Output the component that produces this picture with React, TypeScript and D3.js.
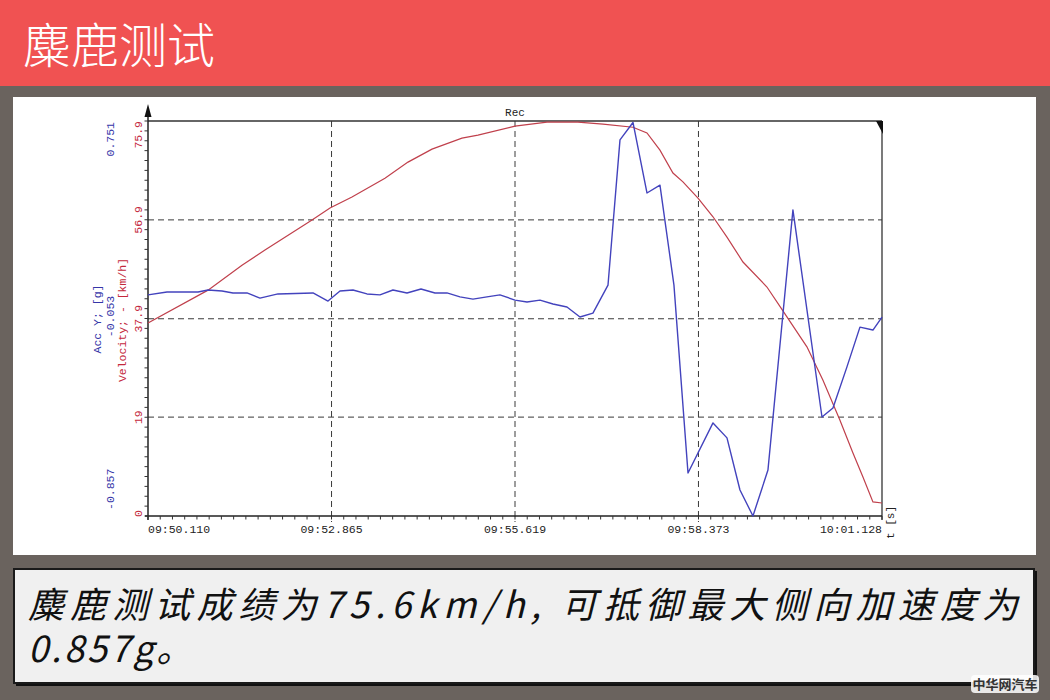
import React from "react";
import * as d3 from "d3";

const title = "麋鹿测试";
const caption1 = "麋鹿测试成绩为75.6km/h, 可抵御最大侧向加速度为";
const caption2 = "0.857g。";
const watermark = "中华网汽车";
const chartTitle = "Rec";
const accName = "Acc Y; [g]";
const velName = "Velocity; - [km/h]";
const xUnit = "t [s]";

const xTickValues = [50.11, 52.865, 55.619, 58.373, 61.128];
const xTickLabels = ["09:50.110", "09:52.865", "09:55.619", "09:58.373", "10:01.128"];
const velTicks = [0, 19, 37.9, 56.9, 75.9];
const velTickLabels = ["0", "19", "37.9", "56.9", "75.9"];
const accTicks = [-0.857, -0.053, 0.751];
const accTickLabels = ["-0.857", "-0.053", "0.751"];

// Velocity [km/h] vs time (seconds after 09:50)
const velTime = [
  50.11, 51.011, 51.521, 51.866, 52.572, 52.842, 53.172, 53.667, 54.013, 54.373,
  54.823, 55.063, 55.619, 56.099, 56.564, 56.94, 57.39, 57.6, 57.795, 57.99,
  58.14, 58.366, 58.591, 58.801, 59.041, 59.401, 59.641, 60.001, 60.242, 60.497,
  60.692, 60.842, 60.992, 61.128,
];
const velocity = [
  37.1, 43.4, 48.2, 51.1, 56.9, 59.2, 61.3, 64.9, 68.0, 70.5,
  72.6, 73.2, 74.9, 75.7, 75.7, 75.3, 74.7, 73.6, 70.3, 65.9,
  64.2, 61.1, 57.5, 53.6, 48.8, 44.0, 39.4, 32.5, 26.1, 18.4,
  12.1, 7.5, 2.7, 2.5,
];

// Lateral acceleration [g] vs time
const accTime = [
  50.11, 50.395, 50.861, 51.011, 51.221, 51.386, 51.596, 51.791, 52.061, 52.587,
  52.812, 52.992, 53.187, 53.397, 53.592, 53.787, 53.998, 54.208, 54.418, 54.598,
  54.793, 54.988, 55.198, 55.393, 55.619, 55.799, 55.994, 56.189, 56.399, 56.594,
  56.789, 57.015, 57.195, 57.39, 57.6, 57.795, 58.005, 58.216, 58.591, 58.801,
  58.996, 59.191, 59.416, 59.791, 60.227, 60.392, 60.602, 60.797, 60.992, 61.128,
];
const accY = [
  0.043, 0.055, 0.055, 0.063, 0.059, 0.051, 0.051, 0.03, 0.047, 0.051,
  0.018, 0.059, 0.063, 0.047, 0.043, 0.063, 0.051, 0.067, 0.051, 0.051,
  0.035, 0.026, 0.035, 0.043, 0.022, 0.014, 0.022, 0.006, -0.006, -0.047,
  -0.031, 0.083, 0.674, 0.745, 0.458, 0.49, 0.083, -0.682, -0.478, -0.539,
  -0.751, -0.857, -0.67, 0.389, -0.454, -0.417, -0.25, -0.088, -0.1, -0.047,
];

const MONO = "'Liberation Mono', 'DejaVu Sans Mono', monospace";
const CJK = "'Noto Sans CJK SC', 'Noto Sans', sans-serif";
const BLUE = "#4343bd";
const RED = "#c0404c";
const BLUE_T = "#3535a8";
const RED_T = "#c4283c";

export default function App() {
  const W = 1050, H = 700;
  const L = 148, R = 882, T = 121, B = 516;

  const x = d3.scaleLinear().domain([xTickValues[0], xTickValues[xTickValues.length - 1]]).range([L, R]);
  const yV = d3.scaleLinear().domain([0, 75.9]).range([B, T]);
  const yA = d3.scaleLinear().domain([-0.857, 0.751]).range([B, T]);

  const velLine = d3.line<number>().x((_, i) => x(velTime[i])).y((d) => yV(d))(velocity) || "";
  const accLine = d3.line<number>().x((_, i) => x(accTime[i])).y((d) => yA(d))(accY) || "";

  const x0 = xTickValues[0], x1 = xTickValues[xTickValues.length - 1];
  const xMinor = d3.range(0, 61).map((i) => x0 + (i * (x1 - x0)) / 60);
  const yMinor = d3.range(0, 41).map((i) => (i * 75.9) / 40);

  const innerX = xTickValues.slice(1, -1);
  const innerV = velTicks.slice(1, -1);

  const rot = (cx: number, cy: number) => `translate(${cx},${cy}) rotate(-90)`;

  return (
    <svg width={W} height={H} style={{ position: "absolute", left: 0, top: 0, display: "block" }}>
      <rect x={0} y={0} width={W} height={H} fill="#6a635e" />
      <rect x={0} y={0} width={W} height={86} fill="#f05252" />
      <text x={23} y={63} fill="#ffffff" fontFamily={CJK} fontSize={48} fontWeight={300}>{title}</text>

      {/* chart panel */}
      <rect x={13} y={97} width={1023} height={458} fill="#ffffff" />

      {/* grid */}
      {innerV.map((v, i) => (
        <line key={"hg" + i} x1={L} x2={R} y1={yV(v)} y2={yV(v)} stroke="#3a3a3a" strokeWidth={1} strokeDasharray="6,4" />
      ))}
      {innerX.map((t, i) => (
        <line key={"vg" + i} x1={x(t)} x2={x(t)} y1={T} y2={B + 6} stroke="#3a3a3a" strokeWidth={1} strokeDasharray="6,4" />
      ))}

      {/* frame */}
      <line x1={L} x2={R} y1={T} y2={T} stroke="#333" strokeWidth={1.3} />
      <line x1={R} x2={R} y1={T} y2={B + 4} stroke="#333" strokeWidth={1.3} />
      <line x1={L - 3} x2={R} y1={B} y2={B} stroke="#222" strokeWidth={1.5} />
      <line x1={L} x2={L} y1={110} y2={B + 4} stroke="#222" strokeWidth={1.5} />
      <polygon points={`${L},104 ${L - 3.5},117 ${L + 3.5},117`} fill="#111" />
      <polygon points={`${R - 6},${T} ${R + 1},${T} ${R + 1},${T + 13}`} fill="#111" />

      {/* minor ticks */}
      {xMinor.map((t, i) => (
        <line key={"xm" + i} x1={x(t)} x2={x(t)} y1={B} y2={B + 3.5} stroke="#333" strokeWidth={1} />
      ))}
      {yMinor.map((v, i) => (
        <line key={"ym" + i} x1={L - 3.5} x2={L} y1={yV(v)} y2={yV(v)} stroke="#333" strokeWidth={1} />
      ))}

      {/* x tick labels */}
      {xTickValues.map((t, i) => (
        <text
          key={"xl" + i}
          x={x(t)}
          y={533}
          fontFamily={MONO}
          fontSize={11.5}
          fill="#222"
          textAnchor={i === 0 ? "start" : i === xTickValues.length - 1 ? "end" : "middle"}
        >
          {xTickLabels[i]}
        </text>
      ))}
      <text transform={rot(891, 539)} fontFamily={MONO} fontSize={11} fill="#222" dominantBaseline="central" textAnchor="start">{xUnit}</text>
      <text x={515} y={116} fontFamily={MONO} fontSize={11} fill="#222" textAnchor="middle">{chartTitle}</text>

      {/* velocity axis labels */}
      {velTicks.map((v, i) => (
        <text
          key={"vl" + i}
          transform={rot(138.5, i === 0 ? B + 1 : i === velTicks.length - 1 ? T : yV(v))}
          fontFamily={MONO}
          fontSize={11.5}
          fill={RED_T}
          dominantBaseline="central"
          textAnchor={i === 0 ? "start" : i === velTicks.length - 1 ? "end" : "middle"}
        >
          {velTickLabels[i]}
        </text>
      ))}
      <text transform={rot(122.5, 320)} fontFamily={MONO} fontSize={11.5} fill={RED_T} dominantBaseline="central" textAnchor="middle">{velName}</text>

      {/* acc axis labels */}
      {accTicks.map((a, i) => (
        <text
          key={"al" + i}
          transform={rot(110, i === 0 ? B - 6 : i === accTicks.length - 1 ? T + 1 : yA(a) - 2)}
          fontFamily={MONO}
          fontSize={11.5}
          fill={BLUE_T}
          dominantBaseline="central"
          textAnchor={i === 0 ? "start" : i === accTicks.length - 1 ? "end" : "middle"}
        >
          {accTickLabels[i]}
        </text>
      ))}
      <text transform={rot(97.5, 319)} fontFamily={MONO} fontSize={11.5} fill={BLUE_T} dominantBaseline="central" textAnchor="middle">{accName}</text>

      {/* series */}
      <path d={velLine} fill="none" stroke={RED} strokeWidth={1.2} />
      <path d={accLine} fill="none" stroke={BLUE} strokeWidth={1.4} strokeLinejoin="round" />

      {/* caption box */}
      <rect x={16} y={571} width={1021} height={115} fill="#111" />
      <rect x={14} y={569} width={1020} height={114} fill="#f0f0f0" stroke="#1a1a1a" strokeWidth={2} />
      <text fontFamily={CJK} fontSize={36} fontStyle="italic" fill="#111">
        <tspan x={28} y={618} textLength={990} lengthAdjust="spacing">{caption1}</tspan>
        <tspan x={28} y={662} letterSpacing={3}>{caption2}</tspan>
      </text>

      {/* watermark */}
      <rect x={971} y={675} width={68} height={18} rx={4} fill="#ffffff" fillOpacity={0.85} />
      <text x={1005} y={689} fontFamily={CJK} fontSize={13} fontWeight={700} fill="#333" textAnchor="middle">{watermark}</text>
    </svg>
  );
}
